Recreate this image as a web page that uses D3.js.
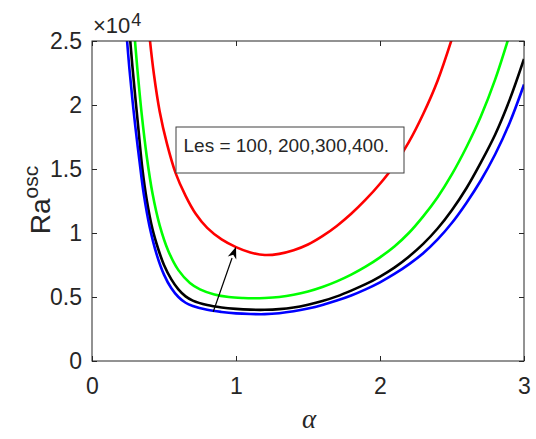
<!DOCTYPE html>
<html>
<head>
<meta charset="utf-8">
<script src="https://cdn.jsdelivr.net/npm/d3@7"></script>
<style>
  html, body { margin: 0; padding: 0; background: #fff; }
  svg { display: block; }
  text { font-family: "Liberation Sans", Arial, Helvetica, sans-serif; fill: #262626; }
</style>
</head>
<body>
<svg id="chart" width="536" height="439"></svg>
<script>
// Wavenumber alpha and oscillatory Rayleigh number (x 10^4) for each Les value
const alphaRed   = [0.39, 0.40, 0.43, 0.47, 0.52, 0.58, 0.65, 0.72, 0.80, 0.90, 1.00, 1.10, 1.20, 1.30, 1.40, 1.50, 1.60, 1.70, 1.80, 1.90, 2.00, 2.10, 2.20, 2.30, 2.40, 2.50, 2.60];
const raRed      = [2.65, 2.53, 2.24, 1.95, 1.70, 1.47, 1.29, 1.15, 1.04, 0.95, 0.89, 0.848, 0.828, 0.837, 0.865, 0.91, 0.975, 1.055, 1.15, 1.26, 1.385, 1.53, 1.71, 1.93, 2.19, 2.52, 2.90];

const alphaGreen = [0.29, 0.30, 0.32, 0.345, 0.38, 0.42, 0.47, 0.53, 0.60, 0.68, 0.75, 0.85, 0.95, 1.05, 1.12, 1.20, 1.30, 1.40, 1.50, 1.60, 1.70, 1.80, 1.90, 2.00, 2.10, 2.20, 2.30, 2.40, 2.50, 2.60, 2.70, 2.80, 2.90];
const raGreen    = [2.62, 2.48, 2.22, 1.93, 1.60, 1.31, 1.06, 0.86, 0.71, 0.61, 0.56, 0.52, 0.50, 0.492, 0.49, 0.492, 0.50, 0.517, 0.543, 0.578, 0.622, 0.675, 0.737, 0.81, 0.895, 1.00, 1.13, 1.28, 1.46, 1.67, 1.91, 2.20, 2.55];

const alphaBlack = [0.26, 0.28, 0.30, 0.32, 0.35, 0.38, 0.42, 0.46, 0.50, 0.55, 0.60, 0.65, 0.70, 0.80, 0.90, 1.00, 1.10, 1.20, 1.30, 1.40, 1.50, 1.60, 1.70, 1.80, 1.90, 2.00, 2.10, 2.20, 2.30, 2.40, 2.50, 2.60, 2.70, 2.80, 2.90, 3.00];
const raBlack    = [2.58, 2.31, 2.07, 1.84, 1.50, 1.26, 1.03, 0.875, 0.75, 0.64, 0.56, 0.505, 0.472, 0.437, 0.418, 0.407, 0.401, 0.40, 0.405, 0.418, 0.44, 0.468, 0.505, 0.55, 0.60, 0.66, 0.73, 0.815, 0.915, 1.035, 1.18, 1.35, 1.55, 1.77, 2.04, 2.36];

const alphaBlue  = [0.24, 0.26, 0.28, 0.30, 0.33, 0.36, 0.40, 0.45, 0.50, 0.55, 0.60, 0.65, 0.70, 0.80, 0.90, 1.00, 1.10, 1.20, 1.30, 1.40, 1.50, 1.60, 1.70, 1.80, 1.90, 2.00, 2.10, 2.20, 2.30, 2.40, 2.50, 2.60, 2.70, 2.80, 2.90, 3.00];
const raBlue     = [2.55, 2.28, 2.05, 1.84, 1.56, 1.30, 1.05, 0.83, 0.675, 0.57, 0.50, 0.455, 0.43, 0.40, 0.383, 0.372, 0.367, 0.366, 0.373, 0.388, 0.41, 0.438, 0.472, 0.512, 0.56, 0.615, 0.68, 0.755, 0.842, 0.95, 1.08, 1.235, 1.41, 1.615, 1.86, 2.16];

const xTicks = [0, 1, 2, 3];
const yTicks = [0, 0.5, 1, 1.5, 2, 2.5];
const legendText = "Les = 100, 200,300,400.";

const series = [
  { a: alphaRed,   r: raRed,   color: "#ff0000" },
  { a: alphaGreen, r: raGreen, color: "#00ff00" },
  { a: alphaBlack, r: raBlack, color: "#000000" },
  { a: alphaBlue,  r: raBlue,  color: "#0000ff" }
];

const svg = d3.select("#chart");
const plotL = 92, plotT = 41, plotR = 524, plotB = 361;

const x = d3.scaleLinear().domain([0, 3]).range([plotL, plotR]);
const y = d3.scaleLinear().domain([0, 2.5]).range([plotB, plotT]);

// clip region for the curves
svg.append("defs").append("clipPath").attr("id", "plotClip")
  .append("rect").attr("x", plotL).attr("y", plotT)
  .attr("width", plotR - plotL).attr("height", plotB - plotT);

const line = d3.line()
  .x(d => x(d[0])).y(d => y(d[1]))
  .curve(d3.curveCatmullRom.alpha(0.5));

const curves = svg.append("g").attr("clip-path", "url(#plotClip)");
series.forEach(s => {
  curves.append("path")
    .datum(s.a.map((v, i) => [v, s.r[i]]))
    .attr("d", line)
    .attr("fill", "none")
    .attr("stroke", s.color)
    .attr("stroke-width", 2.6)
    .attr("stroke-linejoin", "round");
});

// axes with inward ticks on all four sides
const axisColor = "#262626";
function styleAxis(g) {
  g.select(".domain").remove();
  g.selectAll(".tick line").attr("stroke", axisColor);
  g.selectAll(".tick text").attr("fill", axisColor)
    .style("font-family", '"Liberation Sans", Arial, sans-serif')
    .style("font-size", "23px");
}
svg.append("g").attr("transform", `translate(0,${plotB})`)
  .call(d3.axisBottom(x).tickValues(xTicks).tickFormat(d3.format("d")).tickSize(-5).tickPadding(17))
  .call(styleAxis);
svg.append("g").attr("transform", `translate(0,${plotT})`)
  .call(d3.axisTop(x).tickValues(xTicks).tickFormat("").tickSize(-5))
  .call(styleAxis);
svg.append("g").attr("transform", `translate(${plotL},0)`)
  .call(d3.axisLeft(y).tickValues(yTicks).tickFormat(d => String(d)).tickSize(-5).tickPadding(10))
  .call(styleAxis);
svg.append("g").attr("transform", `translate(${plotR},0)`)
  .call(d3.axisRight(y).tickValues(yTicks).tickFormat("").tickSize(-5))
  .call(styleAxis);

svg.append("rect")
  .attr("x", plotL).attr("y", plotT)
  .attr("width", plotR - plotL).attr("height", plotB - plotT)
  .attr("fill", "none").attr("stroke", axisColor).attr("stroke-width", 1);

// exponent label
const expo = svg.append("text").attr("x", 93).attr("y", 33).style("font-size", "22px");
expo.append("tspan").text("\u00d710");
expo.append("tspan").attr("dx", 1).attr("dy", -7).style("font-size", "18px").text("4");

// y-axis label
const yl = svg.append("text")
  .attr("transform", "translate(50,200) rotate(-90)")
  .attr("text-anchor", "middle")
  .style("font-size", "28px");
yl.append("tspan").text("Ra");
yl.append("tspan").attr("dy", -12).style("font-size", "21px").text("osc");

// x-axis label
svg.append("text")
  .attr("x", (plotL + plotR) / 2 + 1).attr("y", 428)
  .attr("text-anchor", "middle")
  .style("font-family", '"Liberation Serif", "DejaVu Serif", serif')
  .style("font-style", "italic")
  .style("font-size", "27px")
  .text("\u03b1");

// text box
svg.append("rect")
  .attr("x", 176).attr("y", 127).attr("width", 228).attr("height", 46)
  .attr("fill", "#fff").attr("stroke", "#404040").attr("stroke-width", 1);
svg.append("text").attr("x", 183.5).attr("y", 151.5)
  .style("font-size", "19px").attr("fill", "#111").text(legendText);

// arrow pointing across the curves
const a0 = [0.842, 0.385], a1 = [1.0, 0.893];
const p0 = [x(a0[0]), y(a0[1])], p1 = [x(a1[0]), y(a1[1])];
const ang = Math.atan2(p1[1] - p0[1], p1[0] - p0[0]);
const headLen = 12, headW = 4.5;
const base = [p1[0] - headLen * Math.cos(ang), p1[1] - headLen * Math.sin(ang)];
svg.append("line")
  .attr("x1", p0[0]).attr("y1", p0[1]).attr("x2", base[0]).attr("y2", base[1])
  .attr("stroke", "#000").attr("stroke-width", 1.2);
svg.append("path")
  .attr("d", d3.line()([
    p1,
    [base[0] + headW * Math.sin(ang), base[1] - headW * Math.cos(ang)],
    [p1[0] - headLen * 0.7 * Math.cos(ang), p1[1] - headLen * 0.7 * Math.sin(ang)],
    [base[0] - headW * Math.sin(ang), base[1] + headW * Math.cos(ang)]
  ]) + "Z")
  .attr("fill", "#000");
</script>
</body>
</html>
